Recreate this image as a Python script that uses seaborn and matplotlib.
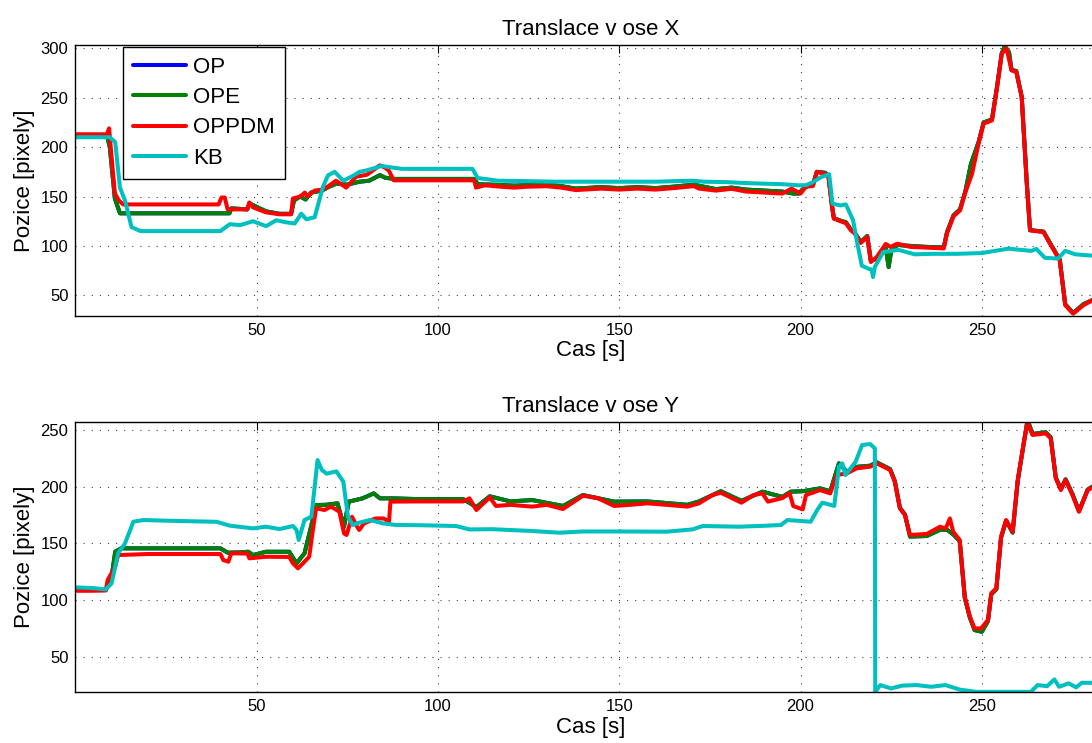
import matplotlib
matplotlib.use("Agg")
import matplotlib.pyplot as plt
import seaborn as sns

# ---------------- translation along X ----------------
t_ope_x = [0, 8.7, 9.5, 10.9, 12.3, 20, 30, 42.5, 43, 47.4,
           48, 52.6, 56.3, 59.5, 60.3, 62, 63.5, 65, 68, 70,
           72, 75, 78.4, 81, 84, 85.5, 88, 95, 105, 110,
           111, 115, 121, 125, 130, 134, 138, 145, 150, 155,
           160, 165, 170.6, 176.6, 181, 185, 190, 195, 198, 199.5,
           200.5, 202, 203.4, 204.5, 206.8, 207.7, 208.7, 209.2, 211.5, 212.5,
           213.9, 215, 216.6, 218.4, 219.4, 221, 223.5, 224.3, 225, 226.7,
           230.3, 234.9, 239.5, 240.4, 242.2, 244, 245.5, 247, 249.1, 250.5,
           252.8, 254.1, 255.5, 256.3, 257.5, 258.2, 259.5, 261, 262.4, 263.3,
           267, 268.8, 271.5, 273, 275.2, 278, 281]
v_ope_x = [212, 212, 200, 148, 133, 133, 133, 133, 138, 137,
           143, 135, 132.5, 132.5, 146, 150, 147, 154, 156, 160,
           163, 162, 165, 166, 171.6, 169, 167.8, 167.8, 167.8, 167.8,
           162.4, 162, 161, 161.5, 162, 160.5, 158, 159.5, 158.5, 159.5,
           158.5, 160, 162, 157.5, 159, 157, 156, 155, 153, 153,
           157, 161, 161.5, 175, 174, 171, 140, 128, 125, 124,
           116.5, 113, 104, 110, 85, 87, 98, 78.7, 95, 101,
           100, 99, 98.5, 114, 131, 137, 156, 183, 205, 225,
           228, 259, 295, 302, 296, 278, 277, 251, 164, 116,
           114.5, 103, 86, 41, 32, 41, 46]

# OP coincides with OPE and lies underneath it
t_op_x = list(t_ope_x)
v_op_x = list(v_ope_x)

t_red_x = [0, 4, 8.7, 9.3, 10.0, 10.9, 12, 13.2, 20, 30,
           39.5, 40.3, 41.2, 42, 45, 47.4, 48, 49, 52.6, 56.3,
           59.5, 60, 62, 63.3, 64, 66, 68, 69.6, 71.9, 74.7,
           77.4, 80.4, 84, 85.5, 86.5, 87.8, 95, 105, 110, 110.5,
           113, 117, 121, 125, 130, 134, 138, 145, 150, 155,
           160, 165, 170.6, 172, 176.6, 181, 185, 190, 195, 197.5,
           200, 201.5, 203.4, 204.5, 206.8, 207.7, 208.7, 209.2, 211.5, 212.5,
           213.9, 215, 216.6, 218.4, 219.4, 221, 223.5, 224.8, 226.7, 230.3,
           234.9, 239.5, 240.4, 242.2, 244, 245.5, 247.3, 249.1, 250.5, 252.8,
           254.1, 255.5, 256.8, 258.2, 259.5, 261, 262.4, 263.3, 267, 268.8,
           271.5, 273, 275.2, 278, 281]
v_red_x = [213, 213, 213, 219, 190, 153, 146, 142, 142, 142,
           142, 149, 149, 137, 137, 137, 144, 139, 134, 132,
           132, 148, 150, 154, 150, 156, 157, 160, 166, 159,
           170, 172, 181.6, 179, 176, 166.4, 166.4, 166.4, 166.4, 159,
           161.4, 160, 159, 160, 160.4, 159, 156.5, 158, 157, 158,
           157, 158.5, 160.5, 158, 156, 157.8, 155, 154, 153, 158,
           153, 160, 160.6, 174.8, 173, 170, 139.4, 127.6, 124.3, 123,
           115.8, 112.4, 103, 109, 83.7, 88.7, 102, 99, 102.3, 99,
           98.3, 97.5, 112.7, 130, 136, 154.6, 173, 203.5, 223.8, 227,
           257.5, 294.6, 300, 277.7, 276, 250.7, 163, 115.8, 114, 102.3,
           85.4, 40, 31.5, 40, 46]

t_kb_x = [0, 5, 9.5, 11, 12.3, 13.7, 15.5, 18, 25, 32,
          40, 42.6, 45.4, 49, 52.6, 55.4, 58, 60.5, 62.3, 63.7,
          66, 68.3, 69.7, 71.5, 73.9, 76.6, 78.4, 80.4, 84.5, 87,
          90, 100, 109.5, 111, 116.6, 124, 132, 140, 150, 160,
          170, 173.5, 180, 185.6, 190, 195, 199.5, 201.5, 203.4, 205.6,
          207.9, 208.8, 211, 212.5, 214.5, 215.5, 216.9, 218.7, 219.6, 220,
          220.5, 222.8, 227, 231.5, 236, 243, 250, 257.3, 263.7, 265,
          267.4, 271, 273, 275.8, 281]
v_kb_x = [210, 210, 210, 205, 159, 146, 119, 115, 115, 115,
          115, 122, 121, 125, 120, 126, 124, 122.7, 132.6, 127,
          129, 160, 171.5, 175, 166, 171, 175, 176.5, 181, 179.5,
          178, 178, 178, 168.7, 166, 165.6, 165, 165, 165, 165,
          166, 165, 164.5, 163.5, 163, 162.5, 161.3, 161.5, 164.5, 169.5,
          172.5, 142.8, 141, 142, 126, 105.7, 80, 77, 76, 68.5,
          78.8, 93.8, 96, 91.5, 92, 92, 92.8, 97.2, 95, 97,
          88, 87.2, 95, 91.5, 90]

# ---------------- translation along Y ----------------
t_ope_y = [0, 8.4, 10, 11, 12.6, 20, 30, 40, 42, 45,
           47.7, 49, 52.6, 59, 61, 63.2, 65, 66.4, 69, 72.3,
           74.1, 75.4, 79.2, 82.3, 84, 87.4, 95, 107, 110.6, 114.3,
           120, 126, 134.5, 140, 148.6, 157.8, 168.8, 172, 178, 183.7,
           189.5, 195, 197.3, 200.6, 205.4, 208.2, 210.6, 212.8, 215.5, 219.2,
           221, 224.7, 226, 227.4, 228.8, 230.2, 234.8, 238.5, 240.5, 242.1,
           243.9, 245.3, 246.7, 248, 250, 251.7, 252.6, 254, 255.3, 256.7,
           258.5, 259.9, 261.7, 262.6, 264, 267.6, 269, 270.4, 271.8, 273.1,
           275, 276.8, 279.2, 281]
v_ope_y = [108.8, 108.8, 120.6, 142.6, 145.6, 145.6, 145.6, 145.6, 141.8, 142,
           142.6, 139.7, 142.6, 142.6, 132.4, 141.2, 164.7, 183.8, 184, 185.3,
           164.7, 186.8, 189.7, 194.1, 189.7, 189.7, 189, 189, 182, 191.5,
           187, 188.2, 183, 192.6, 186.8, 187, 184, 187, 196, 187.5,
           195.6, 191, 195.6, 196, 198.5, 196, 220.6, 213, 217.5, 218.5,
           221.5, 215.5, 205, 181.5, 175.5, 156, 156.5, 162, 161.8, 158,
           152, 102, 84.5, 73.5, 72, 81.5, 105, 109.5, 155, 170,
           159.5, 205, 241, 258.8, 246.5, 248, 243.5, 208, 198, 206.5,
           193.5, 178.5, 197.5, 201]

t_op_y = list(t_ope_y)
v_op_y = list(v_ope_y)

t_red_y = [0, 4, 8.4, 8.9, 11, 11.8, 20, 30, 40, 40.8,
           42.2, 43, 47.5, 48, 52.6, 59, 60, 61.4, 63.2, 64.5,
           65.5, 66.4, 68.7, 70.5, 72.8, 74.1, 74.8, 76.3, 77.7, 78.3,
           79.6, 82.8, 85, 86.5, 86.9, 95, 107, 108.7, 110.6, 114.3,
           116, 120, 126, 130, 134.5, 140, 144, 148.6, 153, 157.8,
           163, 168.8, 172, 175.7, 178, 183.7, 187, 189.5, 191, 195,
           197, 198, 200.6, 201.5, 205.4, 208.2, 210, 212.8, 215.5, 219.2,
           221, 224.7, 226, 227.4, 228.8, 230.2, 234.8, 238.5, 240, 241.2,
           242.1, 243.9, 245.3, 246.7, 248, 249.8, 251.7, 252.6, 254, 255.3,
           256.7, 258.5, 259.9, 261.7, 262.6, 264, 267.6, 269, 270.4, 271.8,
           273.1, 275, 276.8, 279.2, 281]
v_red_y = [108.2, 108.2, 108.5, 117.6, 129.4, 139.7, 140.6, 140.6, 140.6, 135.3,
           133.8, 141.2, 141, 136.8, 138.2, 138, 132.4, 128, 133.8, 138.2,
           161.8, 180.9, 179.4, 182.4, 178, 158.8, 157.4, 173.5, 164.7, 161.8,
           167.6, 172, 172, 169.1, 186.8, 187, 187, 189.7, 179.4, 190.6,
           183, 184, 182.4, 184, 180.3, 192, 190, 183, 184, 185.3,
           184, 182.4, 185.3, 192.6, 194.7, 185.9, 192.6, 194.1, 186.8, 190,
           194.1, 182.9, 180, 192.6, 197, 194.1, 210.3, 211.8, 216.2, 217.6,
           220.6, 214.7, 204.4, 180.9, 175, 157.4, 158.3, 164.7, 163, 172,
           160.3, 153, 103, 85.4, 75, 75, 82.5, 106, 110.4, 155.9,
           170.6, 160.3, 205.9, 241.2, 255.9, 245.6, 247, 242.6, 207.4, 197,
           205.9, 192.6, 177.9, 197, 200]

t_kb_y = [0, 5, 8.4, 10, 11.8, 13.7, 16, 18.8, 25, 32,
          39, 42.6, 45.5, 49, 52.6, 56.3, 60, 61, 61.6, 63.2,
          65.1, 66.8, 68, 69.3, 72, 73.9, 75.2, 76.5, 78, 81.2,
          84.8, 88.5, 95, 105, 108.7, 115, 126, 133.5, 140, 150,
          163, 170.2, 173, 183, 190, 194.6, 196.4, 202.8, 204.6, 206,
          209.3, 210.6, 211.5, 212.4, 215.2, 217, 219.2, 220.5, 220.6, 222,
          225, 228, 232, 236, 240, 243.9, 248.5, 255, 263.5, 265.4,
          268, 270, 271.3, 274, 276, 277.6, 281]
v_kb_y = [111.2, 110.5, 109.4, 114.7, 141.2, 150, 169.1, 170.6, 170, 169.5,
          169, 165.6, 164.5, 163.2, 164.7, 162.6, 165.3, 161.8, 153, 170.6,
          173.5, 223.5, 214.7, 211.5, 213.5, 204.4, 173.5, 166.2, 168, 170.6,
          167.6, 166.2, 166, 165.3, 162.3, 162.5, 160.9, 159.4, 160.5, 160.5,
          160.3, 162.3, 165.3, 164.7, 165.5, 166.2, 170.6, 169.1, 179.4, 185.9,
          183, 217.6, 220.6, 210.3, 222, 236.8, 237.6, 233.8, 19.1, 25,
          22, 24.5, 25, 23.5, 25, 21, 19, 19, 19, 25,
          24, 30, 23.5, 26.5, 23, 27, 27]

series_names = ["OP", "OPE", "OPPDM", "KB"]
series_colors = ["#0000ff", "#008000", "#ff0000", "#00bfbf"]
x_ticks = [50, 100, 150, 200, 250]

sns.set_style("white")
plt.rcParams["font.family"] = ["Liberation Sans", "DejaVu Sans"]
plt.rcParams["text.color"] = "black"
plt.rcParams["axes.labelcolor"] = "black"
plt.rcParams["xtick.color"] = "black"
plt.rcParams["ytick.color"] = "black"

fig = plt.figure(figsize=(10.92, 7.43), dpi=100)
ax_top = fig.add_axes([0.069, 0.5751, 0.943, 0.3643])
ax_bot = fig.add_axes([0.069, 0.0682, 0.943, 0.3642])

panels = [
    (ax_top, "Translace v ose X",
     [(t_op_x, v_op_x), (t_ope_x, v_ope_x), (t_red_x, v_red_x), (t_kb_x, v_kb_x)],
     (29.4, 303.3), [50, 100, 150, 200, 250, 300], True),
    (ax_bot, "Translace v ose Y",
     [(t_op_y, v_op_y), (t_ope_y, v_ope_y), (t_red_y, v_red_y), (t_kb_y, v_kb_y)],
     (18.6, 257.3), [50, 100, 150, 200, 250], False),
]

for ax, title, series, ylim, y_ticks, with_legend in panels:
    for name, color, (t, v) in zip(series_names, series_colors, series):
        sns.lineplot(x=t, y=v, ax=ax, color=color, linewidth=2.9,
                     estimator=None, sort=False, legend=False,
                     label=name if with_legend else None)
    ax.set_xlim(0, 284)
    ax.set_ylim(*ylim)
    ax.set_xticks(x_ticks)
    ax.set_yticks(y_ticks)
    ax.grid(True, color="0.25", linestyle=(0, (1, 6.3)), linewidth=0.8)
    ax.set_axisbelow(True)
    ax.tick_params(direction="in", top=True, right=True, length=6,
                   width=0.8, labelsize=12, pad=5, color="black",
                   labelcolor="black")
    for sp in ax.spines.values():
        sp.set_color("black")
        sp.set_linewidth(1.0)
    ax.set_title(title, fontsize=16, pad=7, color="black")
    ax.set_xlabel("Cas [s]", fontsize=16, labelpad=2, color="black")
    ax.set_ylabel("Pozice [pixely]", fontsize=16, labelpad=4, color="black")

leg = ax_top.legend(loc="upper left", bbox_to_anchor=(0.0463, 0.9937),
                    fontsize=16, frameon=True, fancybox=False,
                    edgecolor="black", framealpha=1, borderpad=0.45,
                    labelspacing=0.42, handlelength=2.4, handletextpad=0.3,
                    borderaxespad=0)
leg.get_frame().set_linewidth(1.0)
for txt in leg.get_texts():
    txt.set_color("black")

fig.savefig("out.png", dpi=100)
